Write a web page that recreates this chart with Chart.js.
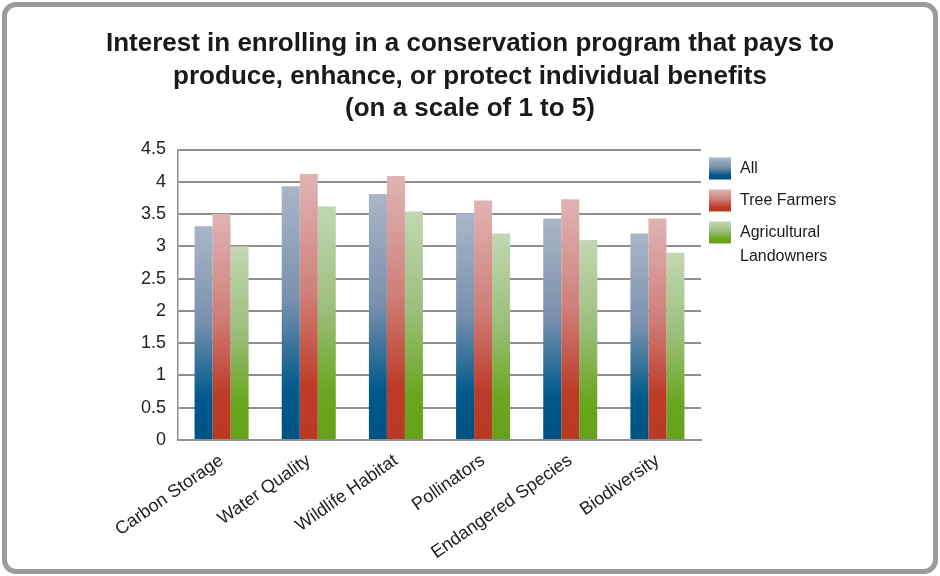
<!DOCTYPE html>
<html>
<head>
<meta charset="utf-8">
<script src="https://cdn.jsdelivr.net/npm/chart.js@4.4.1/dist/chart.umd.min.js"></script>
<style>
  html, body { margin: 0; padding: 0; background: #fff; }
  .frame {
    position: absolute; left: 2px; top: 2px; width: 936px; height: 572px;
    box-sizing: border-box; border: 5px solid #9b9b9b; border-radius: 14px;
  }
  .wrap { position: absolute; left: 0; top: 0; width: 940px; height: 576px; }
</style>
</head>
<body>
<div class="frame"></div>
<div class="wrap"><canvas id="grafico" width="940" height="576"></canvas></div>
<script>
const categories = ["Carbon Storage", "Water Quality", "Wildlife Habitat", "Pollinators", "Endangered Species", "Biodiversity"];
const seriesNames = ["All", "Tree Farmers", "Agricultural Landowners"];
const allValues = [3.31, 3.93, 3.81, 3.51, 3.43, 3.2];
const treeFarmerValues = [3.5, 4.12, 4.09, 3.71, 3.73, 3.43];
const agLandownerValues = [3.0, 3.62, 3.54, 3.2, 3.1, 2.9];
const yTicks = [0, 0.5, 1, 1.5, 2, 2.5, 3, 3.5, 4, 4.5];
const yTickLabels = ["0", "0.5", "1", "1.5", "2", "2.5", "3", "3.5", "4", "4.5"];

// light at the top of each bar, saturated toward the base
const palettes = [
  ["#aab6c8", "#7890ad", "#00598c", "#005282"],
  ["#e0b4b4", "#cf7f79", "#bd3c28", "#b83a24"],
  ["#c3d7b3", "#99be79", "#6aa61f", "#65a219"],
];

function makeGradient(ctx, top, bottom, stops) {
  const g = ctx.createLinearGradient(0, top, 0, bottom);
  g.addColorStop(0, stops[0]);
  g.addColorStop(0.45, stops[1]);
  g.addColorStop(0.8, stops[2]);
  g.addColorStop(1, stops[3]);
  return g;
}

function barFill(i) {
  return (context) => {
    const chart = context.chart;
    if (!chart.chartArea || context.raw === undefined) return palettes[i][2];
    const y = chart.scales.y;
    return makeGradient(chart.ctx, y.getPixelForValue(context.raw), y.getPixelForValue(0), palettes[i]);
  };
}

function wrapWords(ctx, text, maxWidth) {
  const words = text.split(" ");
  const lines = [];
  let line = "";
  words.forEach((w) => {
    const test = line ? line + " " + w : w;
    if (line && ctx.measureText(test).width > maxWidth) {
      lines.push(line);
      line = w;
    } else {
      line = test;
    }
  });
  lines.push(line);
  return lines;
}

// legend to the right of the plot, with gradient swatches
const sideLegend = {
  id: "sideLegend",
  afterDraw(chart) {
    const ctx = chart.ctx;
    const x = chart.chartArea.right + 8;
    let top = chart.chartArea.top + 8;
    ctx.save();
    ctx.font = "16px 'Liberation Sans', Arial, sans-serif";
    ctx.textBaseline = "middle";
    chart.data.datasets.forEach((ds, i) => {
      ctx.fillStyle = makeGradient(ctx, top, top + 22, palettes[i]);
      ctx.fillRect(x, top, 22, 22);
      ctx.fillStyle = "#1a1a1a";
      const lines = wrapWords(ctx, ds.label, 100);
      lines.forEach((ln, k) => ctx.fillText(ln, x + 31, top + 11 + k * 24));
      top += 32;
    });
    ctx.restore();
  },
};

Chart.defaults.font.family = "'Liberation Sans', Arial, sans-serif";
Chart.defaults.color = "#222";

new Chart(document.getElementById("grafico"), {
  type: "bar",
  data: {
    labels: categories,
    datasets: [
      { label: seriesNames[0], data: allValues, backgroundColor: barFill(0) },
      { label: seriesNames[1], data: treeFarmerValues, backgroundColor: barFill(1) },
      { label: seriesNames[2], data: agLandownerValues, backgroundColor: barFill(2) },
    ],
  },
  options: {
    responsive: false,
    animation: false,
    layout: { padding: { top: 0, left: 0, right: 0, bottom: 10 } },
    datasets: { bar: { categoryPercentage: 0.62, barPercentage: 1.0 } },
    plugins: {
      legend: { display: false },
      tooltip: { enabled: false },
      title: {
        display: true,
        text: [
          "Interest in enrolling in a conservation program that pays to",
          "produce, enhance, or protect individual benefits",
          "(on a scale of 1 to 5)",
        ],
        color: "#1a1a1a",
        font: { size: 26, weight: "bold", lineHeight: 1.25 },
        padding: { top: 28, bottom: 24 },
      },
    },
    scales: {
      y: {
        min: 0,
        max: 4.5,
        afterBuildTicks: (axis) => { axis.ticks = yTicks.map((v) => ({ value: v })); },
        afterFit: (axis) => { axis.width = 178; },
        ticks: { padding: 12, font: { size: 18 }, color: "#222", callback: (v, i) => yTickLabels[i] },
        grid: { color: "#8f8f8f", lineWidth: 2, drawTicks: false },
        border: { color: "#8f8f8f", width: 1.5 },
      },
      // empty axis on the right keeps room for the legend
      legendSpace: {
        type: "linear",
        position: "right",
        afterFit: (axis) => { axis.width = 239; },
        ticks: { display: false },
        grid: { display: false },
        border: { display: false },
      },
      x: {
        afterFit: (axis) => { axis.height = 126; },
        ticks: { minRotation: 35, maxRotation: 35, padding: 2, font: { size: 18 }, color: "#222" },
        grid: { display: false },
        border: { color: "#8f8f8f", width: 2 },
      },
    },
  },
  plugins: [sideLegend],
});
</script>
</body>
</html>
